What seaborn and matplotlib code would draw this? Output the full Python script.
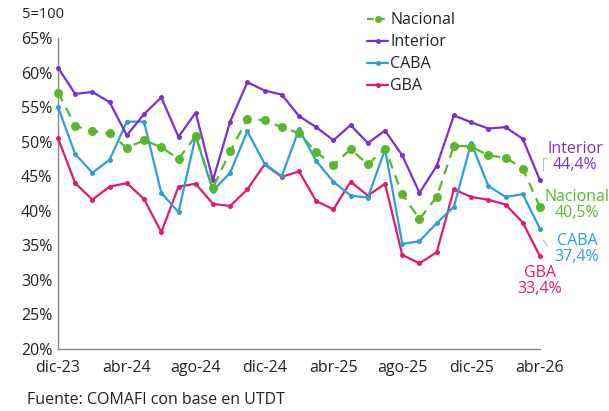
import matplotlib
matplotlib.use("Agg")
import matplotlib.pyplot as plt
import seaborn as sns
import pandas as pd
from matplotlib.lines import Line2D

# Monthly series, dic-23 .. abr-26 (percent)
months = ["dic-23", "ene-24", "feb-24", "mar-24", "abr-24", "may-24", "jun-24", "jul-24",
          "ago-24", "sep-24", "oct-24", "nov-24", "dic-24", "ene-25", "feb-25", "mar-25",
          "abr-25", "may-25", "jun-25", "jul-25", "ago-25", "sep-25", "oct-25", "nov-25",
          "dic-25", "ene-26", "feb-26", "mar-26", "abr-26"]

nacional = [57.1, 52.3, 51.5, 51.2, 49.1, 50.2, 49.2, 47.5, 50.8, 43.3, 48.6, 53.3, 53.1,
            52.1, 51.2, 48.5, 46.6, 48.9, 46.7, 49.0, 42.4, 38.8, 42.0, 49.4, 49.3, 48.0,
            47.7, 46.1, 40.5]
interior = [60.7, 56.9, 57.2, 55.7, 50.9, 54.0, 56.4, 50.7, 54.2, 44.4, 52.9, 58.6, 57.4,
            56.8, 53.7, 52.1, 50.2, 52.4, 49.8, 51.6, 48.0, 42.6, 46.5, 53.8, 52.8, 51.9,
            52.1, 50.4, 44.4]
caba = [55.0, 48.2, 45.5, 47.4, 52.9, 52.9, 42.6, 39.8, 50.8, 42.9, 45.5, 51.5, 46.8,
        45.0, 51.8, 47.2, 44.2, 42.2, 41.9, 48.9, 35.2, 35.6, 38.2, 40.6, 49.8, 43.6,
        42.0, 42.4, 37.4]
gba = [50.5, 44.0, 41.6, 43.5, 44.0, 41.7, 36.9, 43.5, 43.9, 41.0, 40.7, 43.1, 46.7,
       44.9, 45.7, 41.4, 40.2, 44.2, 42.2, 43.9, 33.6, 32.4, 34.0, 43.1, 42.0, 41.6,
       40.9, 38.3, 33.4]

series_names = ["Nacional", "Interior", "CABA", "GBA"]
series_values = [nacional, interior, caba, gba]
colors = {"Nacional": "#58b82a", "Interior": "#7b2fd0", "CABA": "#2a9fd8", "GBA": "#e3196f"}

xtick_labels = ["dic-23", "abr-24", "ago-24", "dic-24", "abr-25", "ago-25", "dic-25", "abr-26"]
ytick_values = [20, 25, 30, 35, 40, 45, 50, 55, 60, 65]

df = pd.DataFrame({"mes": list(range(len(months)))})
for name, vals in zip(series_names, series_values):
    df[name] = vals

sns.set_theme(style="white")
plt.rcParams["font.family"] = ["Open Sans", "DejaVu Sans"]
text_color = "#222222"

W, H = 609, 411
fig = plt.figure(figsize=(W / 100, H / 100), dpi=100)
ax = fig.add_axes([58 / W, 1 - 349 / H, (540 - 58) / W, (349 - 38) / H])


def fig_xy(px, py):
    """Pixel position measured from the top-left corner -> figure fraction."""
    return (px / W, 1 - py / H)


# Draw GBA first so the others sit on top, Nacional last
for name in ["GBA", "CABA", "Interior", "Nacional"]:
    is_nat = name == "Nacional"
    sns.lineplot(data=df, x="mes", y=name, ax=ax, color=colors[name],
                 linewidth=1.6, marker="o", markersize=6.5 if is_nat else 3.6,
                 markeredgewidth=0, linestyle=(0, (4.5, 3.2)) if is_nat else "-",
                 clip_on=False, zorder=5 if is_nat else 3, legend=False)

ax.set_xlim(0, len(months) - 1)
ax.set_ylim(20, 65)
ax.set_xticks([months.index(m) for m in xtick_labels])
ax.set_xticklabels(xtick_labels)
ax.set_yticks(ytick_values)
ax.set_yticklabels([f"{v}%" for v in ytick_values])
ax.set_xlabel("")
ax.set_ylabel("")
ax.tick_params(axis="both", labelsize=11.5, length=5, width=0.8, direction="in")
ax.tick_params(axis="x", colors="#888888", labelcolor=text_color, pad=8)
ax.tick_params(axis="y", colors="#888888", labelcolor=text_color, pad=4)
for side in ["top", "right"]:
    ax.spines[side].set_visible(False)
for side in ["left", "bottom"]:
    ax.spines[side].set_color("#888888")
    ax.spines[side].set_linewidth(1.0)
ax.grid(False)


def fmt(v):
    return f"{v:.1f}".replace(".", ",") + "%"


# End-of-series value labels
end_labels = [
    ("Interior", interior[-1], (575, 157)),
    ("Nacional", nacional[-1], (577, 205)),
    ("CABA", caba[-1], (577, 249)),
    ("GBA", gba[-1], (540, 281)),
]
for name, val, (px, py) in end_labels:
    fig.text(*fig_xy(px, py), f"{name}\n{fmt(val)}", ha="center", va="center",
             color=colors[name], fontsize=11.5, linespacing=1.05)

# Thin leader marks next to the Interior and CABA labels
fig.add_artist(Line2D([543 / W, 543 / W, 547 / W], [1 - 170 / H, 1 - 158 / H, 1 - 158 / H],
                      color="#bbbbbb", linewidth=0.8))
fig.add_artist(Line2D([543 / W, 548 / W], [1 - 240 / H, 1 - 246 / H],
                      color="#bbbbbb", linewidth=0.8))

# Legend
handles = []
for name in series_names:
    is_nat = name == "Nacional"
    handles.append(Line2D([0], [0], color=colors[name], linewidth=1.6,
                          linestyle=(0, (3, 2)) if is_nat else "-",
                          marker="o", markersize=5 if is_nat else 3.6, markeredgewidth=0))
fig.legend(handles, series_names, loc="upper left", bbox_to_anchor=fig_xy(364, 9),
           frameon=False, fontsize=11.5, handlelength=1.3, handletextpad=0.15,
           labelspacing=0.38, labelcolor=text_color, borderaxespad=0, borderpad=0.2)

fig.text(*fig_xy(22, 15), "5=100", fontsize=10.5, color=text_color, va="center", ha="left")
fig.text(*fig_xy(27, 400), "Fuente: COMAFI con base en UTDT", fontsize=11.5,
         color=text_color, va="center", ha="left")

fig.savefig("out.png", dpi=100, facecolor="white")
